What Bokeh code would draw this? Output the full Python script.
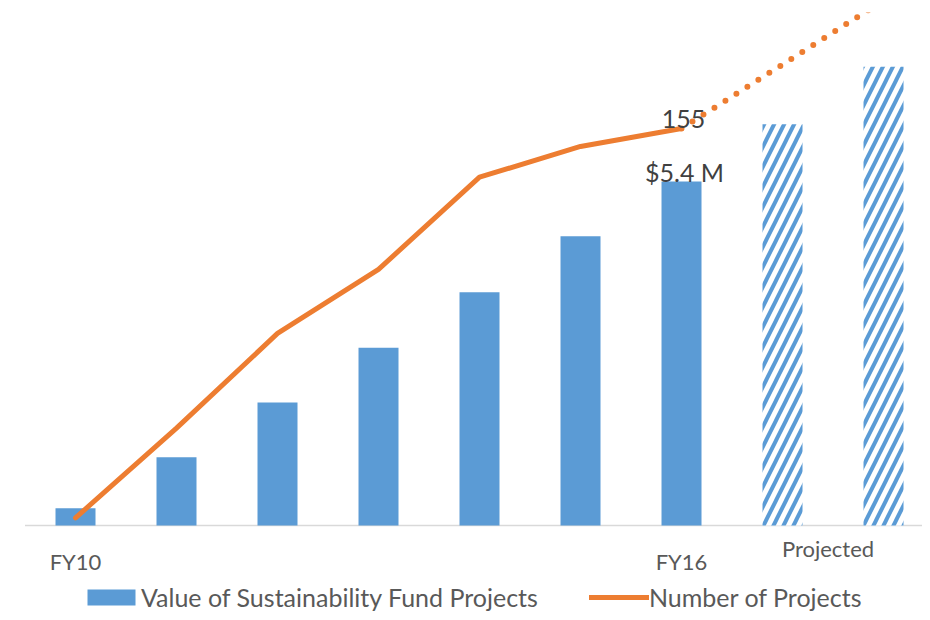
from bokeh.plotting import figure
from bokeh.models import Range1d, Label, Legend, LegendItem, ColumnDataSource
from bokeh.embed import file_html
from bokeh.resources import INLINE

# ---- data ----
years = ["FY10", "FY11", "FY12", "FY13", "FY14", "FY15", "FY16"]
proj_years = ["FY17", "FY18"]
fund_value = [0.27, 1.07, 1.93, 2.79, 3.66, 4.54, 5.4]      # $M
proj_value = [6.3, 7.2]                                      # $M (projected)
num_projects = [3, 38, 75, 100, 136, 148, 155]
proj_projects = [180, 205]
tick_labels = ["FY10", "FY16"]
tick_index = [0, 6]
projected_label = "Projected"
value_label = "$5.4 M"
count_label = "155"

FONT = "Lato"
BLUE = "#5B9BD5"
ORANGE = "#ED7D31"

xs = list(range(len(years)))
pxs = list(range(len(years), len(years) + len(proj_years)))

p = figure(width=922, height=612,
           x_range=Range1d(-0.7426, 8.386), y_range=Range1d(-1.366, 8.053),
           output_backend="svg", toolbar_location=None,
           x_axis_location=None, y_axis_location=None,
           min_border_left=0, min_border_right=0, min_border_bottom=0, min_border_top=12,
           outline_line_color=None, background_fill_color="white", border_fill_color="white")
p.extra_y_ranges = {"count": Range1d(-33.96, 200.3)}
p.xgrid.visible = False
p.ygrid.visible = False

# baseline
p.segment(x0=[-0.5], y0=[0], x1=[8.6], y1=[0], line_color="#D9D9D9", line_width=1.5)

src = ColumnDataSource(dict(x=xs, v=fund_value, n=num_projects))
bars = p.vbar(x="x", top="v", width=0.396, source=src, fill_color=BLUE, line_color=None)

psrc = ColumnDataSource(dict(x=pxs, v=proj_value))
p.vbar(x="x", top="v", width=0.396, source=psrc, fill_color="white", line_color=None,
       hatch_pattern="/", hatch_color=BLUE, hatch_scale=20, hatch_weight=4)

line = p.line(x="x", y="n", source=src, y_range_name="count", line_color=ORANGE,
              line_width=5, line_cap="round", line_join="round")

p.line(x=[xs[-1]] + pxs, y=[num_projects[-1]] + proj_projects, y_range_name="count",
       line_color=ORANGE, line_width=6, line_cap="round", line_dash="0 13")

# data labels
p.add_layout(Label(x=xs[-1], y=num_projects[-1], y_range_name="count", text=count_label,
                   x_offset=2, y_offset=10, text_align="center", text_baseline="alphabetic",
                   text_font=FONT, text_font_size="25px", text_color="#404040"))
p.add_layout(Label(x=xs[-1], y=fund_value[-1], text=value_label,
                   x_offset=3, y_offset=9, text_align="center", text_baseline="alphabetic",
                   text_font=FONT, text_font_size="25px", text_color="#404040"))

# category labels
for i, t in zip(tick_index, tick_labels):
    p.add_layout(Label(x=i, y=51, y_units="screen", text=t, text_align="center",
                       text_baseline="alphabetic", text_font=FONT, text_font_size="22px",
                       text_color="#595959"))
p.add_layout(Label(x=(pxs[0] + pxs[-1]) / 2, y=64, y_units="screen", text=projected_label,
                   x_offset=-5, text_align="center", text_baseline="alphabetic",
                   text_font=FONT, text_font_size="22px", text_color="#595959"))

legend = Legend(items=[LegendItem(label="Value of Sustainability Fund Projects", renderers=[bars]),
                       LegendItem(label="Number of Projects", renderers=[line])],
                location=(81, 0), orientation="horizontal", padding=0, margin=0,
                spacing=51, glyph_width=60, glyph_height=20, label_standoff=0,
                label_text_font=FONT, label_text_font_size="25px", label_text_color="#595959",
                border_line_color=None, background_fill_alpha=0)
p.add_layout(legend)

open("out.html", "w").write(file_html(p, INLINE))
